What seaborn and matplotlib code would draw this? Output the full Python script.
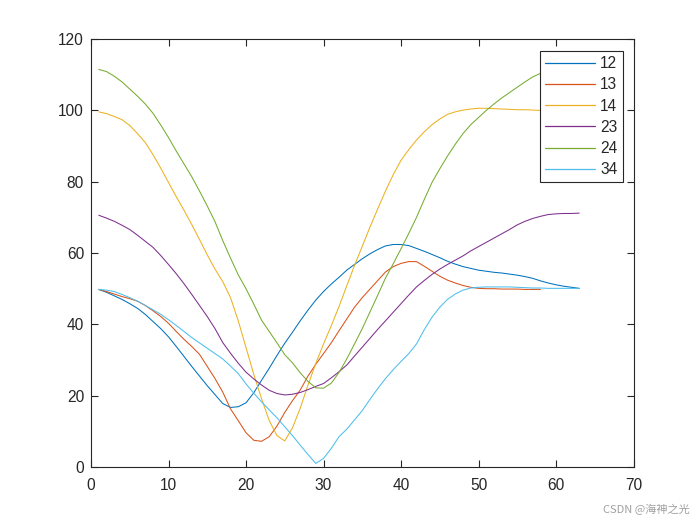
import numpy as np
import pandas as pd
import matplotlib
matplotlib.use("Agg")
import matplotlib.pyplot as plt
import seaborn as sns

# ---- data ----
pairs = ["12", "13", "14", "23", "24", "34"]
colors = ["#0072BD", "#D95319", "#EDB120", "#7E2F8E", "#77AC30", "#4DBEEE"]

y12 = [49.8, 49.0, 48.0, 47.0, 45.8, 44.5, 42.8, 40.8, 38.8, 36.5,
       33.8, 31.0, 28.2, 25.5, 22.8, 20.3, 17.8, 16.7, 16.9, 18.0,
       20.8, 24.3, 27.7, 31.3, 34.7, 37.8, 41.0, 44.0, 46.8, 49.2,
       51.3, 53.2, 55.2, 56.8, 58.4, 59.8, 61.0, 62.0, 62.4, 62.4,
       62.1, 61.3, 60.5, 59.6, 58.7, 57.7, 56.9, 56.2, 55.7, 55.2,
       54.9, 54.6, 54.4, 54.1, 53.8, 53.4, 52.9, 52.2, 51.6, 51.1,
       50.7, 50.4, 50.1]
y13 = [49.8, 49.2, 48.5, 47.8, 47.2, 46.5, 45.3, 43.8, 42.2, 40.3,
       38.0, 35.8, 33.8, 31.6, 28.2, 24.8, 21.0, 16.3, 13.0, 9.6,
       7.5, 7.2, 8.5, 11.5, 15.3, 18.6, 21.6, 25.5, 28.8, 31.8,
       34.8, 38.2, 41.5, 44.8, 47.5, 49.9, 52.3, 54.7, 56.2, 57.1,
       57.6, 57.6, 56.3, 54.9, 53.5, 52.4, 51.6, 50.9, 50.4, 50.1,
       50.0, 50.0, 49.9, 49.9, 49.9, 49.8, 49.8, 49.8]
y14 = [99.6, 99.1, 98.3, 97.4, 95.8, 93.5, 91.0, 87.6, 83.8, 79.8,
       75.8, 72.0, 68.0, 63.8, 59.5, 55.5, 52.0, 47.5, 41.0, 33.5,
       26.0, 19.2, 13.0, 8.8, 7.3, 11.0, 16.5, 23.0, 29.0, 34.5,
       39.6, 45.0, 50.8, 56.5, 61.9, 67.3, 72.4, 77.4, 82.0, 86.0,
       89.0, 91.7, 94.0, 96.0, 97.6, 98.9, 99.6, 100.1, 100.4, 100.6,
       100.6, 100.5, 100.4, 100.3, 100.2, 100.2, 100.1, 100.0]
y23 = [70.6, 69.8, 68.9, 67.8, 66.6, 65.0, 63.3, 61.6, 59.3, 56.8,
       54.2, 51.4, 48.4, 45.3, 42.2, 38.8, 34.9, 31.9, 29.1, 26.6,
       24.7, 23.0, 21.5, 20.6, 20.2, 20.4, 20.9, 21.7, 22.6, 23.4,
       25.0, 26.7, 28.6, 31.1, 33.6, 36.1, 38.6, 41.0, 43.4, 45.8,
       48.2, 50.5, 52.3, 54.0, 55.5, 56.8, 58.0, 59.2, 60.6, 61.8,
       63.0, 64.2, 65.4, 66.6, 67.9, 68.9, 69.7, 70.3, 70.8, 71.0,
       71.1, 71.1, 71.2]
y24 = [111.5, 110.9, 109.6, 108.0, 106.0, 104.0, 101.8, 99.2, 95.9, 92.4,
       88.6, 85.0, 81.4, 77.4, 73.2, 68.8, 63.5, 58.6, 53.9, 50.0,
       45.7, 41.2, 38.0, 34.8, 31.5, 29.2, 26.4, 24.0, 22.2, 22.1,
       23.5, 26.5, 30.3, 34.5, 38.8, 43.5, 48.2, 53.0, 57.0, 61.2,
       65.5, 70.0, 75.0, 79.8, 83.6, 87.2, 90.5, 93.5, 96.0, 98.0,
       100.0, 101.8, 103.5, 105.0, 106.5, 108.0, 109.4, 110.4, 111.0]
y34 = [49.8, 49.6, 49.2, 48.4, 47.5, 46.5, 45.3, 44.1, 42.8, 41.3,
       39.7, 38.0, 36.3, 34.8, 33.3, 31.8, 30.3, 28.3, 26.2, 23.3,
       20.7, 18.3, 16.0, 13.8, 11.3, 8.8, 6.1, 3.5, 1.0, 2.4,
       5.2, 8.5, 10.6, 13.2, 15.8, 19.0, 22.0, 24.8, 27.3, 29.6,
       31.8, 34.5, 38.5, 42.0, 44.8, 47.0, 48.5, 49.6, 50.2, 50.4,
       50.5, 50.5, 50.5, 50.5, 50.4, 50.3, 50.2, 50.2, 50.1, 50.1,
       50.1, 50.1, 50.1]

xticks = [0, 10, 20, 30, 40, 50, 60, 70]
yticks = [0, 20, 40, 60, 80, 100, 120]

series = [y12, y13, y14, y23, y24, y34]
frames = []
for name, ys in zip(pairs, series):
    frames.append(pd.DataFrame({"x": np.arange(1, len(ys) + 1), "y": ys, "pair": name}))
df = pd.concat(frames, ignore_index=True)

# ---- style ----
sns.set_style("white")
plt.rcParams["font.family"] = ["Liberation Sans", "DejaVu Sans"]
edge = "#262626"

fig = plt.figure(figsize=(7, 5.25), dpi=100)
ax = fig.add_axes([0.13, 0.1105, 0.775, 0.815])

sns.lineplot(data=df, x="x", y="y", hue="pair", hue_order=pairs,
             palette=colors, linewidth=0.75, ax=ax, sort=True,
             estimator=None)

ax.set_xlim(0, 70)
ax.set_ylim(0, 120)
ax.set_xticks(xticks)
ax.set_yticks(yticks)
ax.set_xlabel("")
ax.set_ylabel("")
for s in ax.spines.values():
    s.set_visible(True)
    s.set_color(edge)
    s.set_linewidth(0.8)
ax.tick_params(direction="in", length=5, width=0.8, color=edge,
               labelcolor=edge, labelsize=11.2, top=True, right=True,
               bottom=True, left=True)
ax.tick_params(axis="x", pad=8)
ax.tick_params(axis="y", pad=5)

leg = ax.legend(loc="upper right", bbox_to_anchor=(0.98, 0.972),
                frameon=True, fancybox=False, shadow=False, framealpha=1,
                edgecolor=edge, fontsize=11.2, handlelength=3.2,
                labelspacing=0.4, borderpad=0.33, handletextpad=0.35,
                borderaxespad=0.0)
leg.get_frame().set_linewidth(0.8)
for line in leg.get_lines():
    line.set_linewidth(0.9)

fig.text(0.985, 0.018, "CSDN @海神之光", ha="right", va="bottom",
         fontsize=8, color="#a0a0a0",
         family=["Noto Sans CJK SC", "DejaVu Sans"])

fig.savefig("out.png", dpi=100, facecolor="white")
